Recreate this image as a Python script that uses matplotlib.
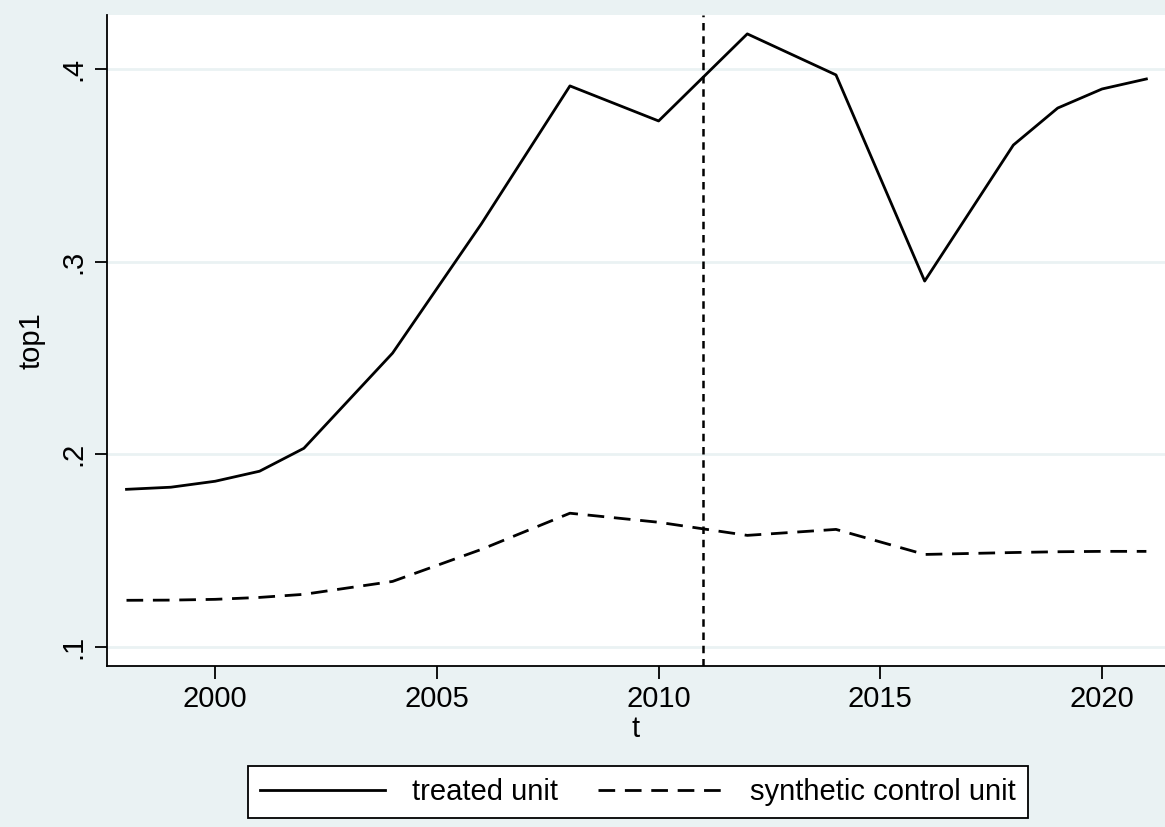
import matplotlib.pyplot as plt

plt.rcParams["font.family"] = ["Liberation Sans", "DejaVu Sans"]

# Datos
years = [1998, 1999, 2000, 2001, 2002, 2004, 2006, 2008, 2010, 2012, 2014, 2016, 2018, 2019, 2020, 2021]
treated = [0.1818, 0.1829, 0.186, 0.1912, 0.2031, 0.2525, 0.3195, 0.3912, 0.373, 0.4182,
           0.3969, 0.2899, 0.3605, 0.3797, 0.3896, 0.3948]
synthetic = [0.1242, 0.1243, 0.1247, 0.1257, 0.1273, 0.134, 0.1506, 0.1694, 0.1647, 0.1579,
             0.161, 0.148, 0.149, 0.1494, 0.1496, 0.1496]
treat_year = 2011
yticks = [0.1, 0.2, 0.3, 0.4]
ytick_labels = [".1", ".2", ".3", ".4"]
xticks = [2000, 2005, 2010, 2015, 2020]

bg = "#EAF2F3"
fs = 21
fig = plt.figure(figsize=(11.65, 8.27), dpi=100, facecolor=bg)
ax = fig.add_axes([107 / 1165, 1 - 666 / 827, 1 - 107 / 1165, (666 - 15) / 827])
ax.set_facecolor("white")

ax.plot(years, treated, color="black", lw=2.0, label="treated unit")
ax.plot(years, synthetic, color="black", lw=2.0, linestyle=(0, (6, 3.5)), label="synthetic control unit")
ax.axvline(treat_year, color="black", lw=1.8, linestyle=(0, (3, 2.3)))

ax.set_xlim(1997.56, 2021.42)
ax.set_ylim(0.0901, 0.428)
ax.set_xticks(xticks)
ax.set_yticks(yticks)
ax.set_yticklabels(ytick_labels, rotation=90, va="center")
ax.grid(axis="y", color=bg, lw=2)
ax.set_axisbelow(True)
ax.tick_params(direction="out", length=9, width=1.3, labelsize=fs, pad=5)
for s in ["top", "right"]:
    ax.spines[s].set_visible(False)
for s in ["left", "bottom"]:
    ax.spines[s].set_linewidth(1.3)

ax.set_xlabel("t", fontsize=fs, labelpad=1)
ax.set_ylabel("top1", fontsize=fs, labelpad=10)

leg = fig.legend(loc="center", bbox_to_anchor=(0.5476, 0.0423), ncol=2, fontsize=fs,
                 frameon=True, fancybox=False, edgecolor="black", framealpha=1,
                 handlelength=4.3, columnspacing=1.4, handletextpad=0.9, borderpad=0.4)
leg.get_frame().set_linewidth(1.3)

plt.savefig("out.png", dpi=100, facecolor=bg)
